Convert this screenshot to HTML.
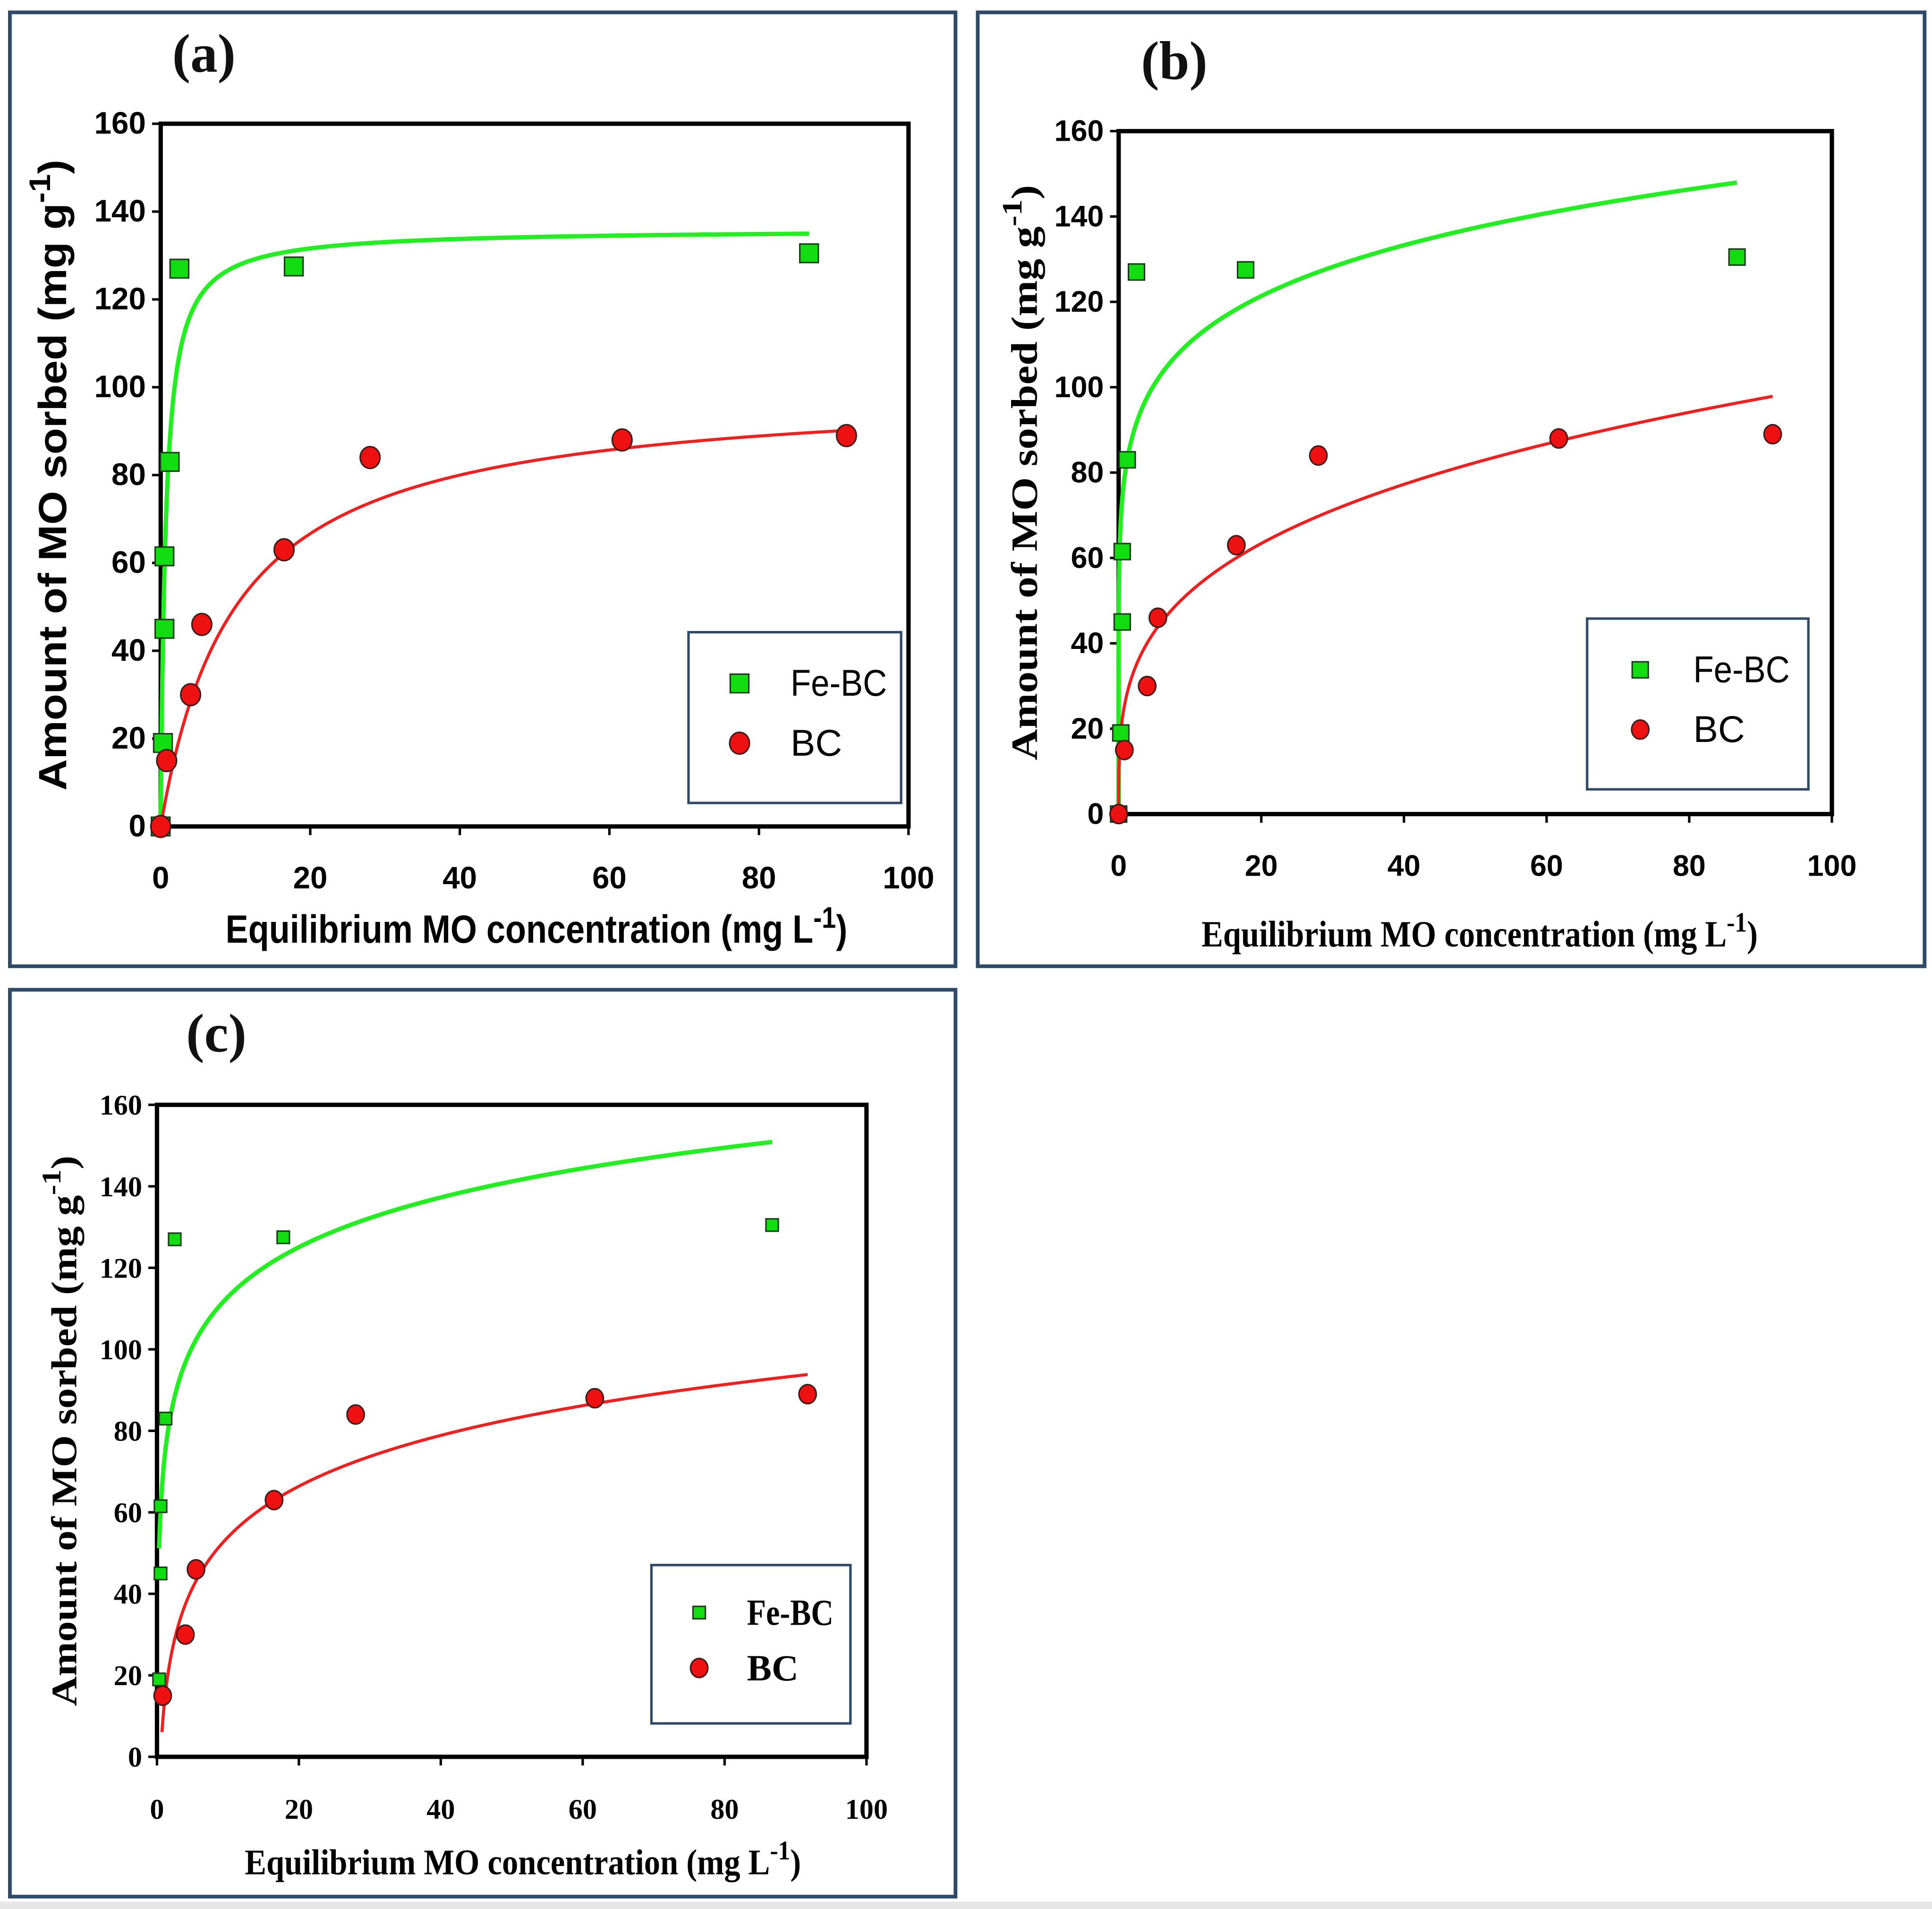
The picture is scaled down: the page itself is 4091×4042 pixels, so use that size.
<!DOCTYPE html>
<html><head><meta charset="utf-8"><style>html,body{margin:0;padding:0;background:#fff}svg{display:block}</style></head>
<body>
<svg id="fig" xmlns="http://www.w3.org/2000/svg" width="4091" height="4042" viewBox="0 0 1563 1543" preserveAspectRatio="none">
<rect x="0" y="0" width="1563" height="1543" fill="#fff"/>
<rect x="0" y="1537" width="1563" height="6" fill="#e6e6e6"/>
</svg>
<script>
// shared data
const feX = [0, 0.3, 0.5, 0.5, 1.2, 2.5, 17.8, 86.7];
const feY = [0, 19, 45, 61.5, 83, 127, 127.5, 130.5];
const bcX = [0, 0.8, 4, 5.5, 16.5, 28, 61.7, 91.7];
const bcY = [0, 15, 30, 46, 63, 84, 88, 89];
const xTicks = [0, 20, 40, 60, 80, 100];
const yTicks = [0, 20, 40, 60, 80, 100, 120, 140, 160];
// model fit parameters
const langmuirFe = [136, 1.5];   // qm, K
const langmuirBc = [100, 0.1];
const freundFe = [81, 0.135];    // K, n
const freundBc = [27, 0.285];
const temkinFe = [17.6, 61];     // B, A
const temkinBc = [18, 2.0];

const NS = "http://www.w3.org/2000/svg";
const svg = document.getElementById('fig');
function mk(tag, attrs, parent) {
  const e = document.createElementNS(NS, tag);
  for (const k in attrs) e.setAttribute(k, attrs[k]);
  (parent || svg).appendChild(e);
  return e;
}
function txt(s, attrs, parent) { const t = mk('text', attrs, parent); t.textContent = s; return t; }

const panels = [
  {id:'a', frame:[8,10,765,771], px0:130, px1:735, py0:668, py1:100, title:[165,58], legend:[557,511,172,138],
   tickFont:'"Liberation Sans", sans-serif', labFont:'"Liberation Sans", sans-serif', tickSize:25, labSize:32, yLabX:45, yLabLen:510, xLabY:762, xLabX:434, xLabLen:503,
   feFit:x=>langmuirFe[0]*langmuirFe[1]*x/(1+langmuirFe[1]*x), bcFit:x=>langmuirBc[0]*langmuirBc[1]*x/(1+langmuirBc[1]*x),
   feMax:86.7, bcMax:91.7, feMin:0, bcMin:0, sq:15, cr:8, yLab:'Amount of MO sorbed (mg g', xLab:'Equilibrium MO concentration (mg L'},
  {id:'b', frame:[791,10,766,771], px0:905, px1:1482, py0:658, py1:106, title:[950,64], legend:[1284,500,179,138],
   tickFont:'"Liberation Sans", sans-serif', labFont:'"Liberation Serif", serif', tickSize:24, labSize:30, yLabX:832, yLabLen:465, xLabY:765, xLabX:1197, xLabLen:450,
   feFit:x=>freundFe[0]*Math.pow(x,freundFe[1]), bcFit:x=>freundBc[0]*Math.pow(x,freundBc[1]),
   feMax:86.7, bcMax:91.7, feMin:0, bcMin:0, sq:13, cr:7, yLab:'Amount of MO sorbed (mg g', xLab:'Equilibrium MO concentration (mg L'},
  {id:'c', frame:[8,800,765,733], px0:127, px1:701, py0:1420, py1:893, title:[175,850], legend:[527,1265,161,128],
   tickFont:'"Liberation Serif", serif', labFont:'"Liberation Serif", serif', tickSize:23, labSize:29, yLabX:55, yLabLen:445, xLabY:1515, xLabX:423, xLabLen:450,
   feFit:x=>temkinFe[0]*Math.log(temkinFe[1]*x), bcFit:x=>temkinBc[0]*Math.log(temkinBc[1]*x),
   feMax:86.7, bcMax:91.7, feMin:0.3, bcMin:0.7, sq:10, cr:7, yLab:'Amount of MO sorbed (mg g', xLab:'Equilibrium MO concentration (mg L'}
];

panels.forEach(p => {
  const g = mk('g', {});
  
  
  const fr = mk('rect', {x:p.frame[0], y:p.frame[1], width:p.frame[2], height:p.frame[3], fill:'none', stroke:'#2f4a68', 'stroke-width':3}, g);
  
  
  const X = v => p.px0 + (p.px1 - p.px0) * v / 100;
  const Y = v => p.py0 + (p.py1 - p.py0) * v / 160;
  const t = txt('(' + p.id + ')', {x:p.title[0], y:p.title[1], 'font-family':'"Liberation Serif", serif', 'font-weight':'bold', 'font-size':44, 'text-anchor':'middle', fill:'#111'}, g);
  
  
  const box = mk('rect', {x:p.px0, y:p.py1, width:p.px1-p.px0, height:p.py0-p.py1, fill:'#fff', stroke:'#000', 'stroke-width':3.5}, g);
  
  
  yTicks.forEach(v => {
    mk('line', {x1:p.px0-7, x2:p.px0, y1:Y(v), y2:Y(v), stroke:'#000', 'stroke-width':2}, g);
    const l = txt(String(v), {x:p.px0-12, y:Y(v)+8, 'text-anchor':'end', 'font-family':p.tickFont, 'font-weight':'bold', 'font-size':p.tickSize}, g);
    
    
  });
  xTicks.forEach(v => {
    mk('line', {x1:X(v), x2:X(v), y1:p.py0, y2:p.py0+7, stroke:'#000', 'stroke-width':2}, g);
    const l = txt(String(v), {x:X(v), y:p.py0+50, 'text-anchor':'middle', 'font-family':p.tickFont, 'font-weight':'bold', 'font-size':p.tickSize}, g);
    
    
  });
  const yc = (p.py0 + p.py1) / 2;
  const yl = txt('', {x:p.yLabX, y:yc, transform:'rotate(-90 '+p.yLabX+' '+yc+')', 'text-anchor':'middle', 'font-family':p.labFont, 'font-weight':'bold', 'font-size':p.labSize, 'dominant-baseline':'middle', textLength:p.yLabLen, lengthAdjust:'spacingAndGlyphs'}, g);
  yl.innerHTML = p.yLab + '<tspan dy="-11" font-size="' + (p.labSize*0.75) + '">-1</tspan><tspan dy="11">)</tspan>';
  
  
  const xl = txt('', {x:p.xLabX, y:p.xLabY, 'text-anchor':'middle', 'font-family':p.labFont, 'font-weight':'bold', 'font-size':p.labSize, textLength:p.xLabLen, lengthAdjust:'spacingAndGlyphs'}, g);
  xl.innerHTML = p.xLab + '<tspan dy="-12" font-size="' + (p.labSize*0.75) + '">-1</tspan><tspan dy="12">)</tspan>';
  
  
  function curve(f, x0, x1, col, name) {
    let d = '';
    for (let i = 0; i <= 400; i++) {
      const x = x0 + (x1 - x0) * Math.pow(i / 400, 2);
      const y = Math.max(0, f(x));
      d += (i ? 'L' : 'M') + X(x).toFixed(2) + ',' + Y(y).toFixed(2);
    }
    const c = mk('path', {d:d, fill:'none', stroke:col, 'stroke-width':name==='fe-fit-curve'?3.5:2.5}, g);
    
    
  }
  curve(p.feFit, p.feMin, p.feMax, '#22ee22', 'fe-fit-curve');
  curve(p.bcFit, p.bcMin, p.bcMax, '#ee2020', 'bc-fit-curve');
  feX.forEach((x, i) => {
    if (p.id === 'c' && feY[i] === 0) return;
    const s = mk('rect', {x:X(x)-p.sq/2, y:Y(feY[i])-p.sq/2, width:p.sq, height:p.sq, fill:'#11dd11', stroke:'#1a3a1a', 'stroke-width':1.2}, g);
    
    
  });
  bcX.forEach((x, i) => {
    if (p.id === 'c' && bcY[i] === 0) return;
    const c = mk('ellipse', {cx:X(x), cy:Y(bcY[i]), rx:p.cr, ry:p.cr*1.1, fill:'#ee1111', stroke:'#3a1a1a', 'stroke-width':1.2}, g);
    
    
  });
  const L = p.legend;
  const lg = mk('g', {}, g);
  
  
  mk('rect', {x:L[0], y:L[1], width:L[2], height:L[3], fill:'#fff', stroke:'#2f4a68', 'stroke-width':2}, lg);
  const lf = p.id === 'a' || p.id === 'b' ? '"Liberation Sans", sans-serif' : '"Liberation Serif", serif';
  const e1y = L[1] + L[3]*0.3, e2y = L[1] + L[3]*0.65;
  mk('rect', {x:L[0]+L[2]*0.24-p.sq/2, y:e1y-p.sq/2, width:p.sq, height:p.sq, fill:'#11dd11', stroke:'#1a3a1a', 'stroke-width':1.2}, lg);
  mk('ellipse', {cx:L[0]+L[2]*0.24, cy:e2y, rx:p.cr, ry:p.cr*1.1, fill:'#ee1111', stroke:'#3a1a1a', 'stroke-width':1.2}, lg);
  const t1 = txt('Fe-BC', {x:L[0]+L[2]*0.48, y:e1y+10, 'font-family':lf, 'font-weight':p.id==='c'?'bold':'normal', 'font-size':30, textLength:p.id==='c'?70:78, lengthAdjust:'spacingAndGlyphs'}, lg);
  
  
  const t2 = txt('BC', {x:L[0]+L[2]*0.48, y:e2y+10, 'font-family':lf, 'font-weight':p.id==='c'?'bold':'normal', 'font-size':30}, lg);
  
  
});
</script>
</body></html>
